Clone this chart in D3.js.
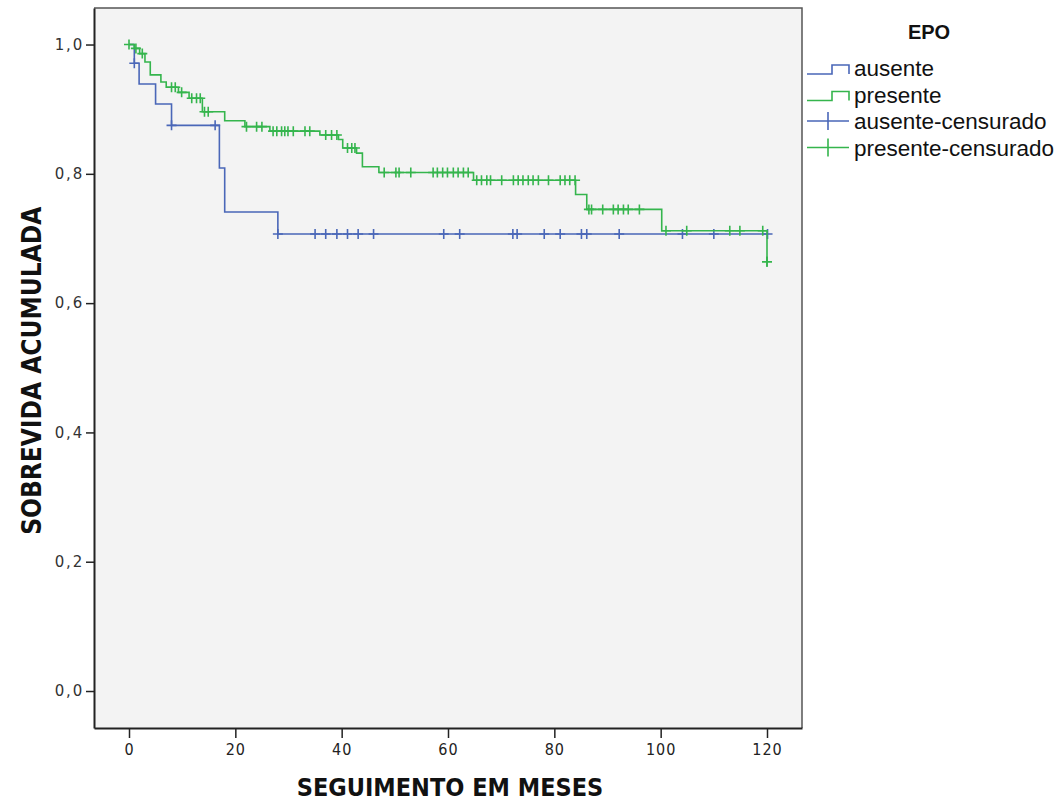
<!DOCTYPE html>
<html>
<head>
<meta charset="utf-8">
<script src="https://cdn.jsdelivr.net/npm/d3@7"></script>
<style>
  html, body { margin: 0; padding: 0; background: #fff; }
  svg { display: block; }
</style>
</head>
<body>
<svg id="chart" width="1059" height="804"></svg>
<script>
// Curvas de sobrevida (Kaplan-Meier) por EPO.

// eventos: [mês, sobrevida após o evento]
const AUSENTE_STEPS = [
  [0, 1.0], [1.0, 0.971], [1.9, 0.939], [5.0, 0.908], [8.0, 0.875],
  [17.0, 0.809], [18.0, 0.741], [28.0, 0.707], [120.1, 0.707]
];
const PRESENTE_STEPS = [
  [0, 1.0], [1.0, 0.994], [2.0, 0.986], [3.0, 0.973], [4.0, 0.953],
  [6.0, 0.942], [7.0, 0.934], [9.3, 0.926], [11.3, 0.917], [13.8, 0.896],
  [18.0, 0.882], [21.8, 0.873], [26.5, 0.866], [35.9, 0.860], [39.4, 0.853],
  [40.2, 0.840], [42.8, 0.832], [43.9, 0.811], [47.0, 0.802], [64.8, 0.790],
  [84.0, 0.768], [86.1, 0.745], [100.2, 0.712], [120.0, 0.664]
];

// censuras (mês)
const AUSENTE_CENS = [1.0, 8.0, 16.2, 28.0, 35.0, 37.0, 39.1, 41.1, 43.1, 46.0,
  59.2, 62.2, 72.2, 73.0, 78.1, 81.1, 85.1, 86.1, 92.2, 104.1, 110.0, 120.1];
const PRESENTE_CENS = [0, 1.3, 2.5, 8.0, 8.7, 9.9, 11.8, 12.7, 13.4, 14.2, 14.9,
  22.1, 24.0, 25.0, 27.1, 27.8, 28.7, 29.3, 29.9, 30.9, 33.1, 34.0,
  37.0, 38.1, 39.1, 41.1, 41.9, 42.5, 48.0, 50.2, 50.8, 53.0,
  57.2, 58.0, 59.0, 59.9, 61.0, 61.9, 62.9, 63.8,
  65.4, 66.3, 67.3, 68.0, 70.1, 72.3, 73.2, 74.1, 75.1, 76.0, 77.0, 78.9,
  81.1, 82.0, 82.9, 83.9, 86.5, 87.0, 89.1, 91.1, 92.0, 93.0, 93.9, 96.0,
  101.0, 104.9, 113.0, 114.9, 119.2, 120.0, 120.0];

const X_TICKS = [0, 20, 40, 60, 80, 100, 120];
const Y_TICKS = [0, 0.2, 0.4, 0.6, 0.8, 1.0];

const SERIES = [
  { name: "ausente", steps: AUSENTE_STEPS, cens: AUSENTE_CENS, color: "#4a67b8" },
  { name: "presente", steps: PRESENTE_STEPS, cens: PRESENTE_CENS, color: "#35b54d" }
];

const LEGEND_ITEMS = [
  { label: "ausente", color: "#4a67b8", kind: "step" },
  { label: "presente", color: "#35b54d", kind: "step" },
  { label: "ausente-censurado", color: "#4a67b8", kind: "cens" },
  { label: "presente-censurado", color: "#35b54d", kind: "cens" }
];

const svg = d3.select("#chart");
const plot = { left: 94, top: 8, right: 802, bottom: 728 };

const xScale = d3.scaleLinear().domain([-6.583, 126.583]).range([plot.left, plot.right]);
const yScale = d3.scaleLinear().domain([-0.0572, 1.0565]).range([plot.bottom, plot.top]);

// fundo da área de plotagem
svg.append("rect")
  .attr("x", plot.left).attr("y", plot.top)
  .attr("width", plot.right - plot.left).attr("height", plot.bottom - plot.top)
  .attr("fill", "#f3f3f3");

// moldura superior/direita
svg.append("path")
  .attr("d", `M${plot.left},${plot.top}H${plot.right}V${plot.bottom}`)
  .attr("fill", "none").attr("stroke", "#555").attr("stroke-width", 1.5);

// eixos
const xAxis = svg.append("g").attr("transform", `translate(0,${plot.bottom})`)
  .call(d3.axisBottom(xScale).tickValues(X_TICKS).tickSize(10).tickSizeOuter(0).tickPadding(6));
const yAxis = svg.append("g").attr("transform", `translate(${plot.left},0)`)
  .call(d3.axisLeft(yScale).tickValues(Y_TICKS).tickSize(8).tickSizeOuter(0).tickPadding(2)
    .tickFormat((v) => d3.format(".1f")(v).replace(".", ",")));

[xAxis, yAxis].forEach((ax) => {
  ax.select(".domain").attr("stroke", "#222").attr("stroke-width", 2);
  ax.selectAll(".tick line").attr("stroke", "#222").attr("stroke-width", 1.5);
});
xAxis.selectAll(".tick text")
  .style("font-family", "'DejaVu Sans Condensed', 'DejaVu Sans'")
  .style("font-size", "16px").style("letter-spacing", "1px").style("fill", "#222");
yAxis.selectAll(".tick text")
  .style("font-family", "'DejaVu Sans'")
  .style("font-size", "15px").style("letter-spacing", "1.8px").style("fill", "#333");

// títulos dos eixos
svg.append("text")
  .attr("x", xScale(60) + 2).attr("y", 796)
  .attr("text-anchor", "middle")
  .style("font-family", "'DejaVu Sans Condensed', 'DejaVu Sans'")
  .style("font-weight", "bold").style("font-size", "25px").style("fill", "#111")
  .text("SEGUIMENTO EM MESES");
svg.append("text")
  .attr("transform", `translate(41,${(yScale(0) + yScale(1)) / 2 + 3}) rotate(-90)`)
  .attr("text-anchor", "middle")
  .style("font-family", "'DejaVu Sans Condensed', 'DejaVu Sans'")
  .style("font-weight", "bold").style("font-size", "26px").style("fill", "#111")
  .text("SOBREVIDA ACUMULADA");

// curvas em degrau
const line = d3.line()
  .x((d) => xScale(d[0])).y((d) => yScale(d[1]))
  .curve(d3.curveStepAfter);

// sobrevida em t (contínua à direita)
function survAt(steps, t) {
  let s = steps[0][1];
  steps.forEach((p) => { if (p[0] <= t) s = p[1]; });
  return s;
}

const ARM = 5;
SERIES.forEach((s) => {
  svg.append("path").datum(s.steps)
    .attr("fill", "none").attr("stroke", s.color).attr("stroke-width", 1.6)
    .attr("d", line);
  svg.append("g").selectAll("path").data(s.cens).join("path")
    .attr("d", (t) => {
      const cx = xScale(t), cy = yScale(survAt(s.steps, t));
      return `M${cx - ARM},${cy}H${cx + ARM}M${cx},${cy - ARM}V${cy + ARM}`;
    })
    .attr("fill", "none").attr("stroke", s.color).attr("stroke-width", 1.6);
});

// legenda
const lg = svg.append("g");
lg.append("text")
  .attr("x", 929).attr("y", 39).attr("text-anchor", "middle")
  .style("font-family", "'Liberation Sans', Arial").style("font-weight", "bold")
  .style("font-size", "20px").style("fill", "#111")
  .text("EPO");

LEGEND_ITEMS.forEach((it, i) => {
  const cy = 68 + i * 26.5;
  if (it.kind === "step") {
    lg.append("path")
      .attr("d", `M807,${cy + 6}H832V${cy - 3}H849V${cy + 6}`)
      .attr("fill", "none").attr("stroke", it.color).attr("stroke-width", 1.6);
  } else {
    lg.append("path")
      .attr("d", `M807,${cy}H849M828,${cy - 9}V${cy + 9}`)
      .attr("fill", "none").attr("stroke", it.color).attr("stroke-width", 1.6);
  }
  lg.append("text")
    .attr("x", 854).attr("y", cy + 8)
    .style("font-family", "'Liberation Sans', Arial")
    .style("font-size", "22.5px").style("fill", "#111")
    .text(it.label);
});
</script>
</body>
</html>
